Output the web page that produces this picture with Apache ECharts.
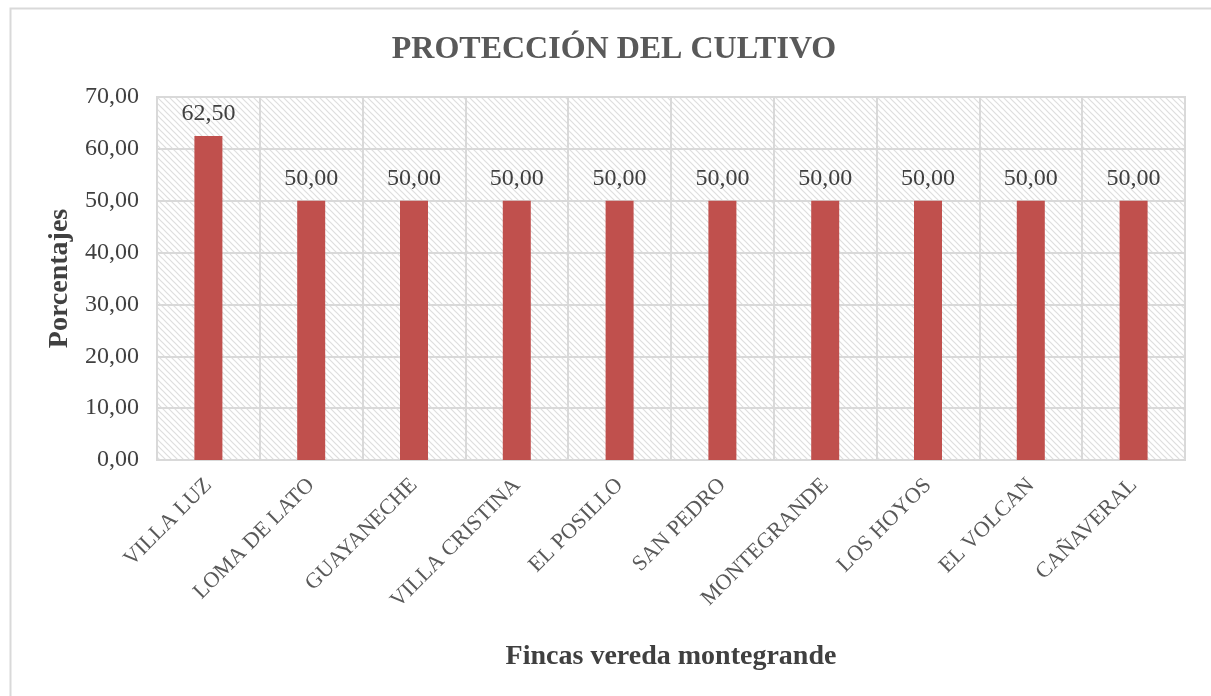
<!DOCTYPE html>
<html>
<head>
<meta charset="utf-8">
<script src="https://cdn.jsdelivr.net/npm/echarts@6/dist/echarts.min.js"></script>
<style>
  html, body { margin: 0; padding: 0; background: #fff; }
  #chart { width: 1211px; height: 696px; }
</style>
</head>
<body>
<div id="chart"></div>
<script>
// datos del grafico
var fincas = ["VILLA LUZ", "LOMA DE LATO", "GUAYANECHE", "VILLA CRISTINA", "EL POSILLO",
  "SAN PEDRO", "MONTEGRANDE", "LOS HOYOS", "EL VOLCAN", "CAÑAVERAL"];
var porcentajes = [62.5, 50, 50, 50, 50, 50, 50, 50, 50, 50];

// trama diagonal del fondo
var tile = document.createElement("canvas");
tile.width = 6;
tile.height = 6;
var ctx = tile.getContext("2d");
ctx.fillStyle = "#ffffff";
ctx.fillRect(0, 0, 6, 6);
ctx.strokeStyle = "#dedede";
ctx.lineWidth = 1.2;
ctx.beginPath();
ctx.moveTo(-1, -1); ctx.lineTo(7, 7);
ctx.moveTo(-1, 5); ctx.lineTo(1, 7);
ctx.moveTo(5, -1); ctx.lineTo(7, 1);
ctx.stroke();

var serif = "'Liberation Serif', 'DejaVu Serif', serif";
var fmt = function (v) { return v.toFixed(2).replace(".", ","); };
var chart = echarts.init(document.getElementById("chart"));

chart.setOption({
  textStyle: { fontFamily: serif },
  title: {
    text: "PROTECCIÓN DEL CULTIVO",
    left: 609,
    textAlign: "center",
    top: 29,
    textStyle: { fontFamily: serif, fontSize: 32, fontWeight: "bold", color: "#595959" }
  },
  graphic: [{
    type: "rect",
    left: 8,
    top: 6,
    shape: { width: 1240, height: 720 },
    style: { fill: "none", stroke: "#d9d9d9", lineWidth: 2 },
    silent: true
  }],
  grid: {
    left: 157,
    right: 26,
    top: 97,
    bottom: 236,
    show: true,
    backgroundColor: { image: tile, repeat: "repeat" },
    borderColor: "#d9d9d9",
    borderWidth: 2
  },
  xAxis: {
    type: "category",
    data: fincas,
    name: "Fincas vereda montegrande",
    nameLocation: "middle",
    nameGap: 183,
    nameTextStyle: { fontFamily: serif, fontSize: 28, fontWeight: "bold", color: "#404040" },
    axisLine: { lineStyle: { color: "#d9d9d9", width: 2 } },
    axisTick: { show: false },
    axisLabel: {
      rotate: 45,
      fontFamily: serif,
      fontSize: 22,
      color: "#595959",
      margin: 22,
      interval: 0
    },
    splitLine: { show: true, lineStyle: { color: "#d9d9d9", width: 2 } }
  },
  yAxis: {
    type: "value",
    min: 0,
    max: 70,
    interval: 10,
    name: "Porcentajes",
    nameLocation: "middle",
    nameGap: 82,
    nameTextStyle: { fontFamily: serif, fontSize: 28, fontWeight: "bold", color: "#404040" },
    axisLine: { show: false },
    axisTick: { show: false },
    axisLabel: {
      fontFamily: serif,
      fontSize: 24,
      color: "#404040",
      margin: 18,
      formatter: fmt
    },
    splitLine: { lineStyle: { color: "#d9d9d9", width: 2 } }
  },
  series: [{
    type: "bar",
    data: porcentajes,
    barWidth: 28,
    itemStyle: { color: "#C0504D" },
    label: {
      show: true,
      position: "top",
      distance: 10,
      fontFamily: serif,
      fontSize: 24,
      color: "#404040",
      formatter: function (p) { return fmt(p.value); }
    }
  }]
});
</script>
</body>
</html>
